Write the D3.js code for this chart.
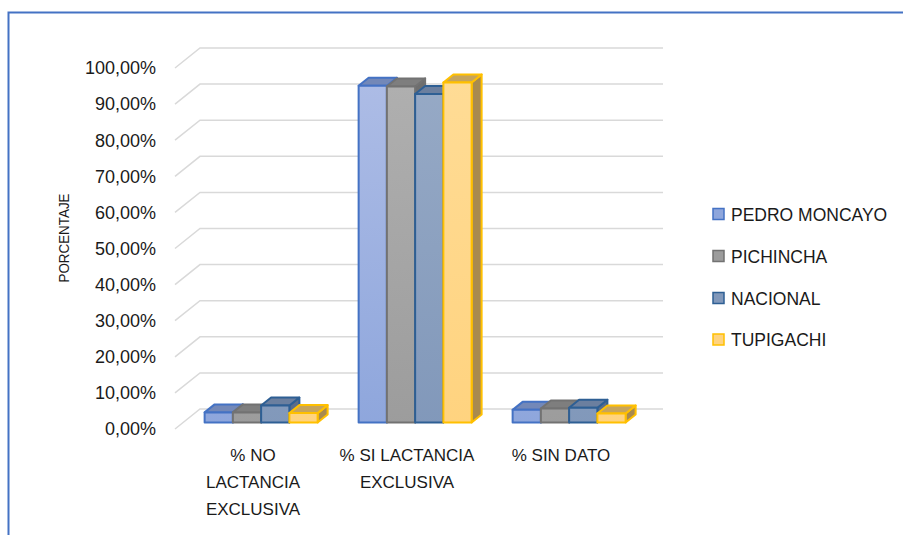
<!DOCTYPE html>
<html><head><meta charset="utf-8">
<script src="https://cdn.jsdelivr.net/npm/d3@7"></script>
<style>html,body{margin:0;padding:0;background:#fff;}svg{display:block;}</style>
</head><body>
<svg id="chart" width="903" height="535"></svg>
<script>
const categories = [["% NO","LACTANCIA","EXCLUSIVA"],["% SI LACTANCIA","EXCLUSIVA"],["% SIN DATO"]];
const categoryKeys = ["% NO LACTANCIA EXCLUSIVA","% SI LACTANCIA EXCLUSIVA","% SIN DATO"];
const seriesNames = ["PEDRO MONCAYO","PICHINCHA","NACIONAL","TUPIGACHI"];
const pedroMoncayo = [2.8, 93.3, 3.5];
const pichincha = [2.8, 93.1, 3.9];
const nacional = [4.7, 91.0, 4.1];
const tupigachi = [2.6, 94.2, 2.5];
const seriesValues = [pedroMoncayo, pichincha, nacional, tupigachi];
const tickValues = [0,10,20,30,40,50,60,70,80,90,100];
const tickLabels = ["0,00%","10,00%","20,00%","30,00%","40,00%","50,00%","60,00%","70,00%","80,00%","90,00%","100,00%"];

const styles = [
  {top:"#aebde6", bot:"#8ea6dc", topFace:"#7388b8", side:"#5d74a8", stroke:"#4472c4"},
  {top:"#b0b0b0", bot:"#9c9c9c", topFace:"#7e7e7e", side:"#6e6e6e", stroke:"#727272"},
  {top:"#97aac6", bot:"#8198ba", topFace:"#6b7f9f", side:"#5a6d8a", stroke:"#2e5f94"},
  {top:"#ffdc96", bot:"#ffd37f", topFace:"#c6a45c", side:"#a88a4f", stroke:"#ffc000"}
];

const svg = d3.select("#chart");
const DX = 25, DY = 20;          // full depth offset
const z0 = 0.325, z1 = 0.725;    // bar depth range
const y = d3.scaleLinear().domain([0,100]).range([429,68]);
const x = d3.scaleBand().domain(categoryKeys).range([176,638]);
const inner = d3.scaleBand().domain(seriesNames).range([-56.5,56.5]);
const font = "'Liberation Sans', Arial, sans-serif";

// border
svg.append("path").attr("d","M8.5,535 L8.5,12.5 L903,12.5")
  .attr("fill","none").attr("stroke","#4472c4").attr("stroke-width",2);

// gradients
const defs = svg.append("defs");
styles.forEach((s,i)=>{
  const g = defs.append("linearGradient").attr("id","g"+i)
    .attr("gradientUnits","userSpaceOnUse").attr("x1",0).attr("x2",0)
    .attr("y1",y(100)).attr("y2",y(0));
  g.append("stop").attr("offset","0").attr("stop-color",s.top);
  g.append("stop").attr("offset","1").attr("stop-color",s.bot);
});

// gridlines
const x0 = x.range()[0], x1 = x.range()[1];
svg.append("g").selectAll("path").data(tickValues).join("path")
  .attr("d", t => `M${x0-1},${y(t)} L${x0-1+DX},${y(t)-DY} L${x1+DX},${y(t)-DY}`)
  .attr("fill","none").attr("stroke","#d9d9d9").attr("stroke-width",1.5);

// tick labels
svg.append("g").selectAll("text").data(tickValues).join("text")
  .attr("x",156).attr("y",t=>y(t)).attr("dy","0.35em").attr("text-anchor","end")
  .attr("font-family",font).attr("font-size",18).attr("fill","#1a1a1a")
  .text((t,i)=>tickLabels[i]);

// y title
svg.append("text").attr("transform","translate(63.5,238) rotate(-90)")
  .attr("text-anchor","middle").attr("dy","0.35em")
  .attr("textLength",89).attr("lengthAdjust","spacingAndGlyphs")
  .attr("font-family",font).attr("font-size",15).attr("fill","#1a1a1a").text("PORCENTAJE");

// bars
const bars = svg.append("g");
categoryKeys.forEach((c,ci)=>{
  const cx = x(c) + x.bandwidth()/2;
  seriesNames.forEach((s,si)=>{
    const v = seriesValues[si][ci];
    const st = styles[si];
    const xl = cx + inner(s) + DX*z0, xr = xl + inner.bandwidth();
    const yb = y(0) - DY*z0, yt = y(v) - DY*z0;
    const ddx = DX*(z1-z0), ddy = DY*(z1-z0);
    const g = bars.append("g").attr("stroke",st.stroke).attr("stroke-width",2).attr("stroke-linejoin","round");
    g.append("path").attr("d",`M${xr},${yt} L${xr+ddx},${yt-ddy} L${xr+ddx},${yb-ddy} L${xr},${yb} Z`).attr("fill",st.side);
    g.append("path").attr("d",`M${xl},${yt} L${xr},${yt} L${xr+ddx},${yt-ddy} L${xl+ddx},${yt-ddy} Z`).attr("fill",st.topFace);
    g.append("rect").attr("x",xl).attr("y",yt).attr("width",xr-xl).attr("height",yb-yt).attr("fill",`url(#g${si})`);
  });
});

// category labels
categories.forEach((lines,ci)=>{
  const cx = x(categoryKeys[ci]) + x.bandwidth()/2;
  svg.append("g").selectAll("text").data(lines).join("text")
    .attr("x",cx).attr("y",(d,i)=>455+i*27).attr("dy","0.35em").attr("text-anchor","middle")
    .attr("font-family",font).attr("font-size",17).attr("fill","#1a1a1a").text(d=>d);
});

// legend
const lg = svg.append("g");
const ly = [214.5,256.5,298.5,340];
seriesNames.forEach((s,i)=>{
  lg.append("rect").attr("x",713).attr("y",ly[i]-6).attr("width",11).attr("height",11)
    .attr("fill",styles[i].bot).attr("stroke",styles[i].stroke).attr("stroke-width",1.5);
  lg.append("text").attr("x",731).attr("y",ly[i]).attr("dy","0.35em")
    .attr("font-family",font).attr("font-size",17.5).attr("fill","#1a1a1a").text(s);
});
</script>
</body></html>
